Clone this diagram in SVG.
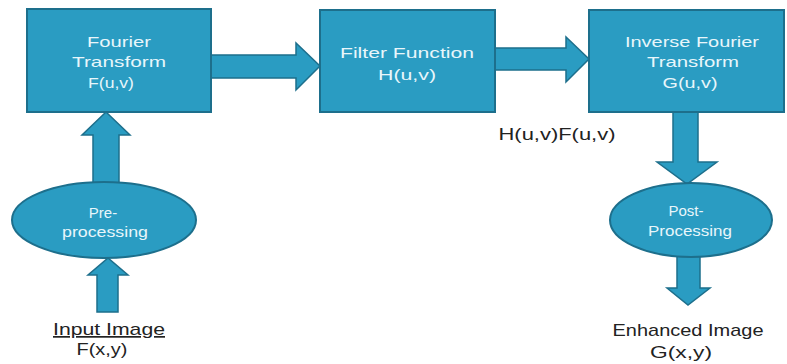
<svg xmlns="http://www.w3.org/2000/svg" width="787" height="364" viewBox="0 0 787 364">
<style>
.box{fill:#2a9cc2;stroke:#1d6f8c;stroke-width:2}
.ell{fill:#2a9cc2;stroke:#1d6f8c;stroke-width:2}
.arr{fill:#2a9cc2;stroke:#1d6f8c;stroke-width:1.5;stroke-linejoin:miter}
.wt{fill:#e8f6fb;font-family:"Liberation Sans",Arial,sans-serif;font-size:15px;text-anchor:middle}
.bt{fill:#222;font-family:"Liberation Sans",Arial,sans-serif;font-size:17px;text-anchor:middle}
</style>
<rect width="787" height="364" fill="#ffffff"/>
<g id="connectors">
<polygon class="arr" points="211,55 296,55 296,43 320,66 296,90 296,78 211,78"/>
<polygon class="arr" points="495,48 566,48 566,37 589,59 566,82 566,70 495,70"/>
<polygon class="arr" points="93,183 93,135 82,135 106,112 130,135 119,135 119,183"/>
<polygon class="arr" points="97,312 97,275 88,275 108,258 128,275 118,275 118,312"/>
<polygon class="arr" points="673,112 698,112 698,162 717,162 687,184 657,162 673,162"/>
<polygon class="arr" points="677,255 700,255 700,288 710,288 688,305 667,288 677,288"/>
</g>
<g id="fourier">
<rect class="box" x="27" y="9" width="184" height="103"/>
<text class="wt" x="119" y="47" textLength="64" lengthAdjust="spacingAndGlyphs">Fourier</text>
<text class="wt" x="119" y="67" textLength="94" lengthAdjust="spacingAndGlyphs">Transform</text>
<text class="wt" x="111" y="88" textLength="46" lengthAdjust="spacingAndGlyphs">F(u,v)</text>
</g>
<g id="filter">
<rect class="box" x="320" y="10" width="175" height="102"/>
<text class="wt" x="407" y="58" textLength="134" lengthAdjust="spacingAndGlyphs">Filter Function</text>
<text class="wt" x="407" y="80" textLength="58" lengthAdjust="spacingAndGlyphs">H(u,v)</text>
</g>
<g id="inverse">
<rect class="box" x="589" y="10" width="195" height="102"/>
<text class="wt" x="692" y="47" textLength="134" lengthAdjust="spacingAndGlyphs">Inverse Fourier</text>
<text class="wt" x="693" y="67" textLength="92" lengthAdjust="spacingAndGlyphs">Transform</text>
<text class="wt" x="690" y="88" textLength="55" lengthAdjust="spacingAndGlyphs">G(u,v)</text>
</g>
<g id="preprocessing">
<ellipse class="ell" cx="104" cy="220" rx="92" ry="38"/>
<text class="wt" x="103" y="218">Pre-</text>
<text class="wt" x="105" y="237" textLength="86" lengthAdjust="spacingAndGlyphs">processing</text>
</g>
<g id="postprocessing">
<ellipse class="ell" cx="691" cy="220" rx="81" ry="37"/>
<text class="wt" x="686" y="216">Post-</text>
<text class="wt" x="690" y="236" textLength="84" lengthAdjust="spacingAndGlyphs">Processing</text>
</g>
<g id="product">
<text class="bt" x="557" y="140" textLength="117" lengthAdjust="spacingAndGlyphs">H(u,v)F(u,v)</text>
</g>
<g id="input">
<text class="bt" x="109" y="335" textLength="112" lengthAdjust="spacingAndGlyphs" text-decoration="underline">Input Image</text>
<text class="bt" x="102" y="355" textLength="51" lengthAdjust="spacingAndGlyphs">F(x,y)</text>
</g>
<g id="output">
<text class="bt" x="688" y="336" textLength="151" lengthAdjust="spacingAndGlyphs">Enhanced Image</text>
<text class="bt" x="681" y="358" textLength="62" lengthAdjust="spacingAndGlyphs">G(x,y)</text>
</g>
</svg>
